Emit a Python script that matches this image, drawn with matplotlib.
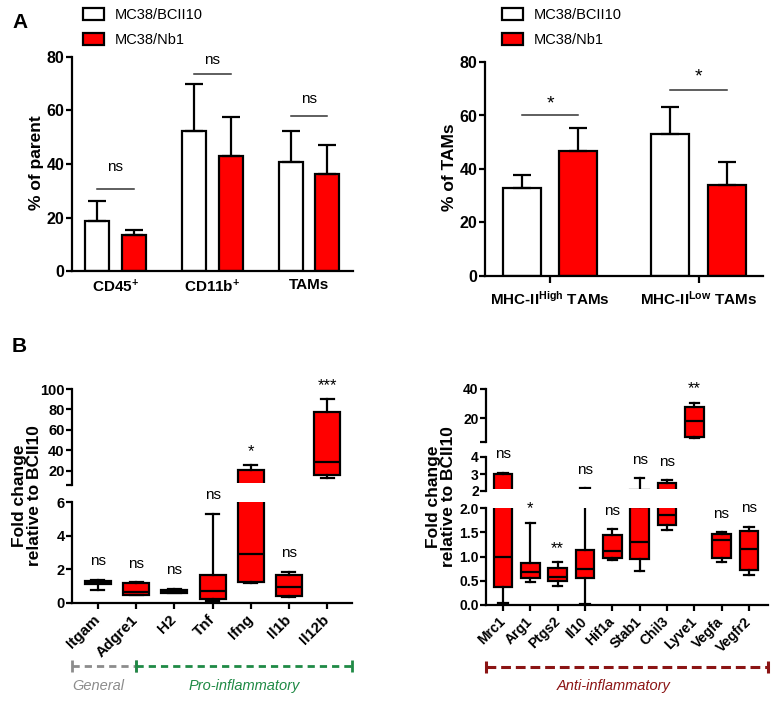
import numpy as np
import matplotlib
matplotlib.use('Agg')
import matplotlib.pyplot as plt
from matplotlib.patches import Patch
from matplotlib.transforms import blended_transform_factory, Bbox, TransformedBbox

plt.rcParams['font.family'] = ['Liberation Sans', 'DejaVu Sans']
plt.rcParams['mathtext.fontset'] = 'custom'
plt.rcParams['mathtext.rm'] = 'Liberation Sans'
plt.rcParams['mathtext.bf'] = 'Liberation Sans:bold'
plt.rcParams['mathtext.it'] = 'Liberation Sans:italic'

# ---- panel A, left: % of parent ----
pop_labels = [r'CD45$^{\mathbf{+}}$', r'CD11b$^{\mathbf{+}}$', 'TAMs']
pop_ctrl = [18.7, 52.2, 40.7]
pop_ctrl_err = [7.4, 17.8, 11.8]
pop_nb1 = [13.3, 43.0, 36.3]
pop_nb1_err = [2.2, 14.5, 10.7]
pop_sig = ['ns', 'ns', 'ns']
pop_sig_line = [30.7, 73.5, 58.0]
pop_sig_text = [38.9, 78.7, 64.2]

# ---- panel A, right: % of TAMs ----
mhc_labels = [r'MHC-II$^{\mathbf{High}}$ TAMs', r'MHC-II$^{\mathbf{Low}}$ TAMs']
mhc_ctrl = [32.8, 53.0]
mhc_ctrl_err = [4.9, 10.0]
mhc_nb1 = [46.9, 34.0]
mhc_nb1_err = [8.6, 8.6]
mhc_sig = ['*', '*']
mhc_sig_line = [60.0, 69.5]
mhc_sig_text = [64.3, 74.3]

series_names = ['MC38/BCII10', 'MC38/Nb1']

# ---- panel B, left: general + pro-inflammatory genes ----
pro_genes = ['Itgam', 'Adgre1', 'H2', 'Tnf', 'Ifng', 'Il1b', 'Il12b']
pro_min = [0.75, 0.45, 0.60, 0.12, 1.20, 0.33, 13.0]
pro_q1 = [1.15, 0.50, 0.62, 0.25, 1.25, 0.42, 15.5]
pro_med = [1.22, 0.67, 0.70, 0.73, 2.90, 0.97, 29.0]
pro_q3 = [1.30, 1.20, 0.78, 1.65, 20.5, 1.66, 77.0]
pro_max = [1.38, 1.22, 0.85, 5.30, 25.5, 1.84, 90.0]
pro_sig = ['ns', 'ns', 'ns', 'ns', '*', 'ns', '***']

# ---- panel B, right: anti-inflammatory genes ----
anti_genes = ['Mrc1', 'Arg1', 'Ptgs2', 'Il10', 'Hif1a', 'Stab1', 'Chil3',
              'Lyve1', 'Vegfa', 'Vegfr2']
anti_min = [0.05, 0.48, 0.39, 0.02, 0.93, 0.70, 1.55, 6.5, 0.89, 0.62]
anti_q1 = [0.38, 0.55, 0.50, 0.55, 0.96, 0.94, 1.64, 7.3, 0.97, 0.72]
anti_med = [1.00, 0.68, 0.57, 0.75, 1.12, 1.30, 1.86, 18.5, 1.33, 1.15]
anti_q3 = [3.00, 0.86, 0.76, 1.13, 1.45, 2.03, 2.50, 28.0, 1.47, 1.52]
anti_max = [3.05, 1.70, 0.88, 2.15, 1.56, 2.75, 2.62, 30.5, 1.50, 1.61]
anti_sig = ['ns', '*', '**', 'ns', 'ns', 'ns', 'ns', '**', 'ns', 'ns']

RED = '#ff0000'
W, H = 775, 701
fig = plt.figure(figsize=(W / 100, H / 100), dpi=100)


def add_ax(x0, x1, y_top, y_bot):
    return fig.add_axes([x0 / W, 1 - y_bot / H, (x1 - x0) / W, (y_bot - y_top) / H])


def style_ax(ax):
    for s in ['top', 'right']:
        ax.spines[s].set_visible(False)
    for s in ['left', 'bottom']:
        ax.spines[s].set_linewidth(1.6)
    ax.tick_params(width=1.6, length=4.5)
    ax.tick_params(axis='y', pad=0.8)
    for lab in ax.get_yticklabels():
        lab.set_fontweight('bold')


def bar_panel(ax, labels, ctrl, ctrl_err, nb1, nb1_err, sig, sig_line, sig_text,
              off, width, xlim, sig_size, tick_len):
    x = np.arange(len(labels))
    ax.bar(x - off, ctrl, width, color='white', edgecolor='black', lw=1.6,
           yerr=[np.zeros(len(x)), ctrl_err], capsize=6.5,
           error_kw=dict(elinewidth=1.6, capthick=1.6), zorder=2)
    ax.bar(x + off, nb1, width, color=RED, edgecolor='black', lw=1.6,
           yerr=[np.zeros(len(x)), nb1_err], capsize=6.5,
           error_kw=dict(elinewidth=1.6, capthick=1.6), zorder=2)
    for i in range(len(x)):
        ax.plot([x[i] - off, x[i] + off], [sig_line[i]] * 2, color='#333333', lw=1.1)
        ax.text(x[i], sig_text[i], sig[i], ha='center', va='center', fontsize=sig_size)
    ax.set_xlim(xlim)
    ax.set_ylim(0, 80)
    ax.set_yticks([0, 20, 40, 60, 80])
    ax.tick_params(labelsize=11.5)
    ax.set_xticks(x)
    ax.set_xticklabels(labels, fontsize=11, fontweight='bold')
    style_ax(ax)
    ax.tick_params(axis='x', length=tick_len, pad=5)


# panel A left
axA1 = add_ax(72, 353, 57, 271)
bar_panel(axA1, pop_labels, pop_ctrl, pop_ctrl_err, pop_nb1, pop_nb1_err, pop_sig,
          pop_sig_line, pop_sig_text, 0.19, 0.25, (-0.45, 2.455), 11, 0)
fig.text(37 / W, 1 - 163 / H, '% of parent', rotation=90, ha='center', va='center',
         fontsize=12.5, fontweight='bold')

# panel A right
axA2 = add_ax(485, 763, 62, 276)
bar_panel(axA2, mhc_labels, mhc_ctrl, mhc_ctrl_err, mhc_nb1, mhc_nb1_err, mhc_sig,
          mhc_sig_line, mhc_sig_text, 0.19, 0.256, (-0.438, 1.434), 14, 5)
fig.text(449 / W, 1 - 167 / H, '% of TAMs', rotation=90, ha='center', va='center',
         fontsize=12.5, fontweight='bold')

# legends
handles = [Patch(facecolor='white', edgecolor='black', lw=1.6),
           Patch(facecolor=RED, edgecolor='black', lw=1.6)]
for lx in [83, 502]:
    fig.legend(handles, series_names, loc='upper left',
               bbox_to_anchor=(lx / W, 1 - 8 / H), frameon=False, fontsize=10.5,
               handlelength=1.45, handleheight=0.85, handletextpad=0.75,
               labelspacing=0.75, borderpad=0, borderaxespad=0)


def box_stats(mins, q1s, meds, q3s, maxs):
    return [dict(whislo=a, q1=b, med=c, q3=d, whishi=e, fliers=[])
            for a, b, c, d, e in zip(mins, q1s, meds, q3s, maxs)]


def broken_boxes(x0, x1, segments, genes, stats, sig, xlim, bw, tick_size, lab_size):
    axes = []
    x = np.arange(len(genes))
    for i, (ylim, y_top, y_bot, ticks, ticklabels) in enumerate(segments):
        ax = add_ax(x0, x1, y_top, y_bot)
        parts = ax.bxp(stats, positions=x, widths=bw, capwidths=bw * 0.5,
                       patch_artist=True, showfliers=False, manage_ticks=False,
                       boxprops=dict(facecolor=RED, edgecolor='black', lw=1.6),
                       whiskerprops=dict(color='black', lw=1.6),
                       capprops=dict(color='black', lw=1.6),
                       medianprops=dict(color='black', lw=1.6))
        if i < len(segments) - 1:
            # keep marks lying just under the break from bleeding into this segment
            inset = 2.0 / (y_bot - y_top)
            clip = TransformedBbox(Bbox([[0, inset], [1, 1.2]]), ax.transAxes)
            for key in ['boxes', 'whiskers', 'caps', 'medians']:
                for art in parts[key]:
                    art.set_clip_box(clip)
        ax.set_xlim(xlim)
        ax.set_ylim(ylim)
        ax.set_yticks(ticks)
        ax.set_yticklabels(ticklabels)
        ax.tick_params(axis='y', labelsize=tick_size)
        style_ax(ax)
        if i < len(segments) - 1:
            ax.spines['bottom'].set_visible(False)
            ax.tick_params(axis='x', bottom=False, labelbottom=False)
        else:
            ax.set_xticks(x)
            ax.set_xticklabels(genes, rotation=45, ha='right', va='center',
                               rotation_mode='anchor', fontsize=lab_size,
                               fontweight='bold')
            ax.tick_params(axis='x', pad=6)
        axes.append(ax)
    for j, s in enumerate(sig):
        top = stats[j]['whishi']
        for k, (ylim, *_rest) in enumerate(segments):
            if ylim[0] <= top < ylim[1] or (k == 0 and top >= ylim[0]):
                ax = axes[k]
                break
        off = 13.5 if s == 'ns' else 10
        ax.annotate(s, (j, top), xytext=(0, off), textcoords='offset points',
                    ha='center', va='center', fontsize=11 if s == 'ns' else 12,
                    annotation_clip=False)
    return axes


seg_left = [((6, 100), 389, 485, [6, 20, 40, 60, 80, 100], ['', '20', '40', '60', '80', '100']),
            ((0, 6), 502, 603, [0, 2, 4, 6], ['0', '2', '4', '6'])]
axB1 = broken_boxes(72, 352, seg_left, pro_genes,
                    box_stats(pro_min, pro_q1, pro_med, pro_q3, pro_max),
                    pro_sig, (-0.68, 6.65), 0.68, 10.5, 11)

seg_right = [((4, 40), 389, 442, [4, 20, 40], ['', '20', '40']),
             ((2, 4), 457, 491, [2, 3, 4], ['2', '3', '4']),
             ((0, 2), 508, 605, [0, 0.5, 1, 1.5, 2], ['0.0', '0.5', '1.0', '1.5', '2.0'])]
axB2 = broken_boxes(486, 768, seg_right, anti_genes,
                    box_stats(anti_min, anti_q1, anti_med, anti_q3, anti_max),
                    anti_sig, (-0.62, 9.7), 0.68, 10, 10)

ylab = 'Fold change\nrelative to BCII10'
fig.text(27 / W, 1 - 496 / H, ylab, rotation=90, ha='center', va='center',
         fontsize=12.5, fontweight='bold', linespacing=1.0)
fig.text(441 / W, 1 - 497 / H, ylab, rotation=90, ha='center', va='center',
         fontsize=12.5, fontweight='bold', linespacing=1.0)

# group brackets under panel B
GRAY, GREEN, DRED = '#8c8c8c', '#1f8a45', '#8b1414'
ax = axB1[-1]
tr = blended_transform_factory(ax.transData, fig.transFigure)
yl = 1 - 666 / H
for xs, col in [((-0.68, 1), GRAY), ((1, 6.65), GREEN)]:
    ax.plot(xs, [yl, yl], transform=tr, color=col, lw=2, ls=(0, (2.6, 1.8)),
            clip_on=False)
    ax.plot(xs, [yl, yl], transform=tr, color=col, lw=0, marker='|', ms=9, mew=2,
            clip_on=False)
ax.text(-0.68, 1 - 686 / H, 'General', transform=tr, color=GRAY, style='italic',
        fontsize=10.5, ha='left', va='center')
ax.text(3.83, 1 - 686 / H, 'Pro-inflammatory', transform=tr, color=GREEN,
        style='italic', fontsize=10.5, ha='center', va='center')

ax = axB2[-1]
tr = blended_transform_factory(ax.transData, fig.transFigure)
yl = 1 - 667 / H
ax.plot((-0.62, 9.7), [yl, yl], transform=tr, color=DRED, lw=2.2,
        ls=(0, (3.2, 1.6)), clip_on=False)
ax.plot((-0.62, 9.7), [yl, yl], transform=tr, color=DRED, lw=0, marker='|', ms=9,
        mew=2.2, clip_on=False)
ax.text(4.05, 1 - 686 / H, 'Anti-inflammatory', transform=tr, color=DRED,
        style='italic', fontsize=10.5, ha='center', va='center')

fig.text(12 / W, 1 - 28 / H, 'A', fontsize=15, fontweight='bold', va='baseline')
fig.text(12 / W, 1 - 352 / H, 'B', fontsize=15, fontweight='bold', va='baseline')

fig.savefig('out.png', dpi=100)
